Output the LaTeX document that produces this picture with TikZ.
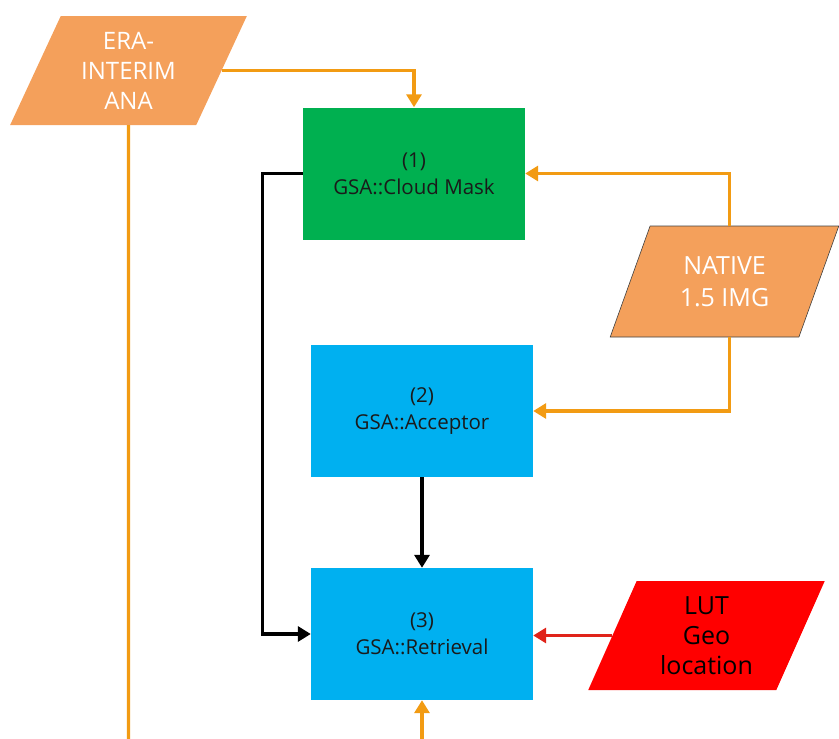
\documentclass[tikz,border=0pt]{standalone}
\usepackage{fontspec}
\setmainfont{Open Sans}
\usetikzlibrary{shapes.geometric,arrows.meta,calc}
\definecolor{orfill}{HTML}{F4A05B}
\definecolor{orline}{HTML}{F29B13}
\definecolor{gbox}{HTML}{00B050}
\definecolor{cbox}{HTML}{00B0F0}
\definecolor{rlut}{HTML}{FF0000}
\definecolor{rline}{HTML}{E0231A}
\definecolor{txt}{HTML}{1A1A1A}
\begin{document}
\begin{tikzpicture}[x=1pt,y=-1pt,
  procbox/.style={rectangle, inner sep=0pt, minimum width=222pt, minimum height=132pt, align=center, text=txt, font=\fontsize{20.5}{27}\selectfont},
  databox/.style={trapezium, trapezium stretches=true, inner sep=0pt, align=center, font=\fontsize{24}{30}\selectfont},
  tip/.style={-{Triangle[width=15pt,length=13pt]}},
  orcon/.style={draw=orline, line width=3.2pt, tip},
  blkcon/.style={draw=black, line width=3.2pt, tip},
  redcon/.style={draw=rline, line width=3.2pt, tip}
]
\useasboundingbox (0,0) rectangle (839,739);

\node[databox, fill=orfill, text=white, minimum width=237pt, minimum height=109pt,
  trapezium left angle=65.4, trapezium right angle=114.6] (era) at (128.5,70.5) {ERA-\\INTERIM\\ANA};
\node[databox, fill=orfill, draw=black!75, line width=0.6pt, text=white, minimum width=229pt, minimum height=111pt,
  font=\fontsize{25}{32}\selectfont,
  trapezium left angle=64.5, trapezium right angle=115.5] (native) at (724.5,281.5) {NATIVE\\1.5 IMG};
\node[databox, fill=rlut, text=black, minimum width=237pt, minimum height=109pt,
  font=\fontsize{25}{30}\selectfont,
  trapezium left angle=67.6, trapezium right angle=112.4] (lut) at (706.5,635.5) {LUT\\Geo\\location};

\node[procbox, fill=gbox] (cloud) at (414,173.5) {(1)\\GSA::Cloud Mask};
\node[procbox, fill=cbox] (acc) at (422,411) {(2)\\GSA::Acceptor};
\node[procbox, fill=cbox] (ret) at (422,634) {(3)\\GSA::Retrieval};

\coordinate (eraend) at (128.5,739);
\coordinate (botin) at (422,739);

\draw[orcon] (era.east) -| (cloud.north);
\draw[draw=orline, line width=3.2pt] (era.south) -- (eraend);
\draw[orcon] ($(native.north)+(5,0)$) |- (cloud.east);
\draw[orcon] ($(native.south)+(5,0)$) |- (acc.east);
\draw[blkcon] (cloud.west) -- ++(-40,0) |- (ret.west);
\draw[blkcon] (acc.south) -- (ret.north);
\draw[redcon] (lut.west) -- (lut.west -| ret.east);
\draw[orcon] (botin) -- (ret.south);
\end{tikzpicture}
\end{document}
